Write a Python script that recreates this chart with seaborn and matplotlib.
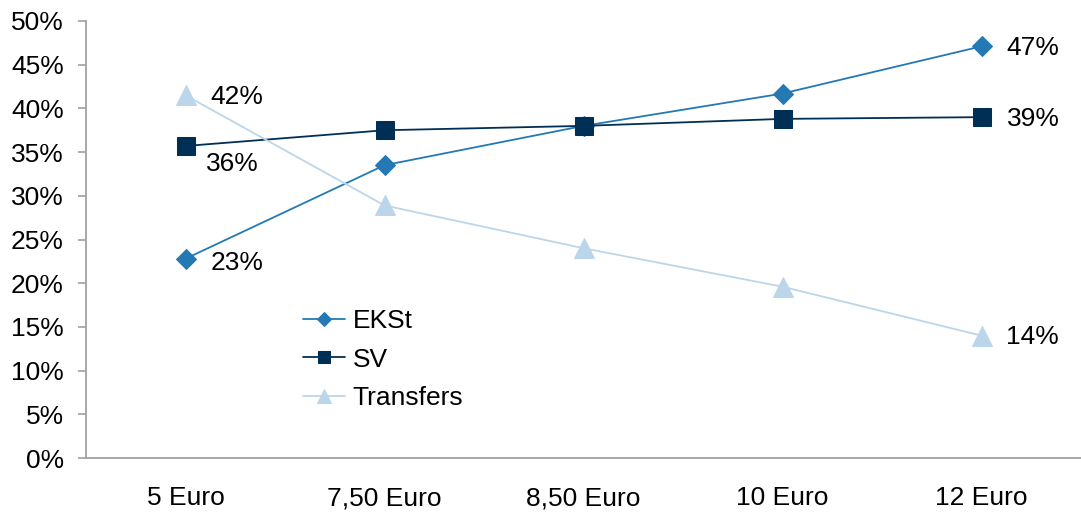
import matplotlib
matplotlib.use("Agg")
import matplotlib.pyplot as plt
import seaborn as sns
import pandas as pd
from matplotlib.ticker import PercentFormatter

categories = ["5 Euro", "7,50 Euro", "8,50 Euro", "10 Euro", "12 Euro"]
ekst = [22.8, 33.5, 38.0, 41.7, 47.1]
sv = [35.7, 37.5, 38.0, 38.8, 39.0]
transfers = [41.5, 28.9, 24.0, 19.6, 14.0]
series_names = ["EKSt", "SV", "Transfers"]

df = pd.DataFrame({
    "cat": categories * 3,
    "value": ekst + sv + transfers,
    "series": [s for s in series_names for _ in categories],
})

sns.set_style("white")
plt.rcParams["font.family"] = ["Liberation Sans", "DejaVu Sans"]

FS = 19
colors = {"EKSt": "#2479B5", "SV": "#002F55", "Transfers": "#BBD6EA"}
markers = {"EKSt": "D", "SV": "s", "Transfers": "^"}
msizes = {"EKSt": 10, "SV": 13, "Transfers": 15}

fig = plt.figure(figsize=(10.81, 5.12), dpi=100)
ax = fig.add_axes([86 / 1081, 1 - 458 / 512, 995 / 1081, 437 / 512])

for name in series_names:
    sub = df[df["series"] == name]
    sns.lineplot(data=sub, x="cat", y="value", ax=ax, color=colors[name],
                 marker=markers[name], markersize=msizes[name],
                 markeredgecolor=colors[name], linewidth=1.3,
                 sort=False, label=name)

# data labels
labels = [
    (0, ekst[0], "23%", (18, -3)),
    (4, ekst[4], "47%", (18, -1)),
    (0, sv[0], "36%", (15, -13)),
    (4, sv[4], "39%", (18, -1)),
    (0, transfers[0], "42%", (18, -1)),
    (4, transfers[4], "14%", (18, -1)),
]
for xi, yv, txt, off in labels:
    ax.annotate(txt, (xi, yv), xytext=off, textcoords="offset points",
                ha="left", va="center", fontsize=FS, color="#000000")

ax.set_xlim(-0.5, 4.475)
ax.set_ylim(0, 50)
ax.set_yticks(range(0, 51, 5))
ax.yaxis.set_major_formatter(PercentFormatter(decimals=0))
ax.set_xticks(range(len(categories)))
ax.set_xticklabels(categories)
ax.set_xticks([i - 0.5 for i in range(len(categories) + 1)], minor=True)
ax.tick_params(axis="x", which="major", length=0, pad=20.5, labelsize=FS, labelcolor="black")
ax.tick_params(axis="x", which="minor", length=7, width=1.2, color="#A0A0A0", direction="out")
ax.tick_params(axis="y", which="major", length=6, width=1.2, color="#A0A0A0",
               direction="out", pad=10, labelsize=FS, left=True, labelcolor="black")
ax.set_xlabel("")
ax.set_ylabel("")

for s in ["top", "right"]:
    ax.spines[s].set_visible(False)
for s in ["left", "bottom"]:
    ax.spines[s].set_color("#A0A0A0")
    ax.spines[s].set_linewidth(1.3)

leg = ax.legend(loc="upper left", bbox_to_anchor=(0.207, 0.365), frameon=False,
                fontsize=FS, handlelength=1.6, handletextpad=0.3, labelspacing=0.55,
                borderaxespad=0, markerscale=0.7)
for t in leg.get_texts():
    t.set_color("black")

fig.savefig("out.png", dpi=100)
